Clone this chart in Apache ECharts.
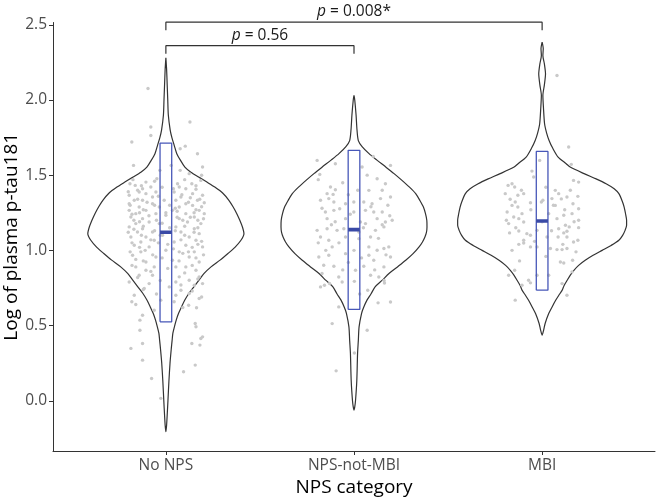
<!DOCTYPE html>
<html><head><meta charset="utf-8">
<script src="https://cdn.jsdelivr.net/npm/echarts@6/dist/echarts.min.js"></script>
<style>html,body{margin:0;padding:0;background:#fff}#c{width:658px;height:503px}</style>
</head><body><div id="c"></div>
<script>
// ---------------- data ----------------
const categories = ['No NPS', 'NPS-not-MBI', 'MBI'];
const yTicks = [0, 0.5, 1, 1.5, 2, 2.5];

// violin profiles: [log p-tau181 value, half-width (density) in category units]
const violinNoNPS = [[2.28,0],[2.20,0.004],[2.10,0.007],[2.00,0.010],[1.90,0.013],[1.80,0.023],[1.75,0.032],[1.70,0.044],[1.643,0.058],[1.60,0.077],[1.554,0.101],[1.52,0.133],[1.487,0.175],[1.454,0.218],[1.421,0.260],[1.38,0.303],[1.333,0.335],[1.29,0.357],[1.244,0.377],[1.20,0.393],[1.155,0.407],[1.111,0.415],[1.067,0.399],[1.02,0.367],[0.979,0.330],[0.935,0.288],[0.89,0.240],[0.845,0.202],[0.80,0.175],[0.757,0.149],[0.713,0.122],[0.668,0.100],[0.624,0.083],[0.58,0.067],[0.536,0.055],[0.49,0.045],[0.448,0.037],[0.40,0.033],[0.35,0.029],[0.25,0.022],[0.126,0.016],[0.0,0.011],[-0.095,0.007],[-0.16,0.004],[-0.206,0]];
const violinNPSnotMBI = [[2.03,0],[2.00,0.004],[1.90,0.011],[1.80,0.016],[1.73,0.023],[1.69,0.043],[1.643,0.080],[1.60,0.122],[1.554,0.169],[1.51,0.213],[1.465,0.255],[1.42,0.295],[1.377,0.328],[1.33,0.351],[1.288,0.369],[1.244,0.380],[1.20,0.387],[1.155,0.388],[1.12,0.385],[1.089,0.377],[1.056,0.364],[1.023,0.346],[0.978,0.314],[0.934,0.275],[0.89,0.231],[0.846,0.186],[0.80,0.149],[0.757,0.112],[0.71,0.090],[0.669,0.069],[0.62,0.051],[0.58,0.040],[0.491,0.027],[0.40,0.023],[0.315,0.019],[0.137,0.015],[0.0,0.008],[-0.04,0.004],[-0.062,0]];
const violinMBI = [[2.384,0],[2.34,0.006],[2.296,0.004],[2.24,0.012],[2.174,0.018],[2.10,0.012],[2.03,0.004],[1.95,0.007],[1.842,0.013],[1.78,0.024],[1.731,0.037],[1.68,0.056],[1.62,0.085],[1.576,0.128],[1.554,0.149],[1.51,0.223],[1.475,0.287],[1.443,0.340],[1.41,0.383],[1.377,0.408],[1.33,0.425],[1.288,0.436],[1.24,0.444],[1.20,0.449],[1.167,0.449],[1.133,0.441],[1.10,0.428],[1.067,0.408],[1.033,0.367],[1.0,0.319],[0.967,0.271],[0.934,0.229],[0.90,0.194],[0.867,0.169],[0.834,0.149],[0.801,0.133],[0.767,0.117],[0.734,0.106],[0.70,0.088],[0.668,0.072],[0.624,0.053],[0.58,0.035],[0.514,0.016],[0.47,0.008],[0.436,0]];

// box summaries: [lower, median, upper]
const boxNoNPS = [0.525, 1.12, 1.713];
const boxNPSnotMBI = [0.607, 1.138, 1.665];
const boxMBI = [0.735, 1.195, 1.658];

// jittered observations: [jitter offset in category units, value]
const pointsNoNPS = [[-0.095,2.076],
[0.128,1.853],[-0.080,1.820],[-0.080,1.764],[-0.181,1.720],[0.103,1.693],[0.076,1.676],[0.168,1.642],[-0.172,1.565],[0.028,1.565],[0.195,1.554],[-0.032,1.532],[0.076,1.532],[0.124,1.510],[0.190,1.499],[-0.048,1.476],[0.186,1.465],[-0.106,1.454],[-0.191,1.443],[-0.163,1.432],[0.062,1.443],[0.138,1.443],[-0.080,1.421],[-0.124,1.410],[0.071,1.421],[0.106,1.410],[0.160,1.406],[-0.142,1.388],[-0.053,1.388],[0.044,1.388],[-0.195,1.366],[-0.106,1.377],[0.142,1.377],[0.195,1.366],[-0.071,1.355],[0.080,1.355],[-0.168,1.333],[-0.124,1.333],[-0.009,1.333],[0.053,1.333],[0.168,1.333],[-0.195,1.310],[-0.071,1.310],[0.106,1.310],[0.204,1.317],[-0.142,1.288],[-0.035,1.288],[0.071,1.288],[0.142,1.299],[-0.195,1.266],[-0.106,1.266],[0.035,1.266],[0.177,1.266],[-0.160,1.244],[-0.053,1.244],[0.106,1.244],[0.204,1.244],[-0.186,1.222],[-0.124,1.211],[0.000,1.233],[0.071,1.211],[0.151,1.222],[-0.089,1.189],[-0.160,1.178],[-0.035,1.178],[0.115,1.189],[0.186,1.178],[-0.195,1.156],[-0.124,1.144],[0.053,1.156],[0.151,1.144],[-0.151,1.122],[-0.071,1.122],[0.080,1.122],[0.177,1.111],[-0.186,1.089],[-0.106,1.089],[-0.018,1.100],[0.124,1.089],[-0.133,1.056],[-0.062,1.067],[0.044,1.056],[0.160,1.067],[-0.168,1.034],[-0.089,1.023],[0.106,1.034],[0.195,1.023],[-0.133,0.990],[0.000,1.001],[0.071,0.990],[0.151,0.990],[-0.177,0.967],[-0.053,0.956],[0.124,0.956],[-0.106,0.923],[0.035,0.934],[0.177,0.923],
[-0.160,0.890],[-0.106,0.868],[-0.062,0.890],[0.053,0.890],[0.106,0.890],[0.160,0.868],[-0.142,0.835],[-0.071,0.835],[0.071,0.824],[0.124,0.801],[0.177,0.824],[-0.195,0.790],[-0.089,0.779],[0.053,0.790],[0.151,0.768],[0.195,0.779],[-0.115,0.746],[0.018,0.757],[0.080,0.735],[-0.168,0.702],[0.053,0.702],[0.124,0.713],[0.177,0.680],[-0.181,0.658],[-0.027,0.669],[0.044,0.658],[0.121,0.635],[0.163,0.618],[-0.062,0.602],[-0.124,0.569],[-0.138,0.536],[0.156,0.514],[0.160,0.492],[-0.138,0.469],[0.195,0.425],[0.186,0.414],[-0.124,0.381],[0.138,0.381],[0.181,0.370],[-0.186,0.348],[-0.124,0.270],[0.156,0.237],[0.094,0.193],[-0.076,0.148],[-0.027,0.016],
[-0.150,1.40],[-0.020,1.42],[0.130,1.35],[-0.190,1.30],[-0.100,1.32],[0.020,1.30],[0.190,1.29],[-0.140,1.25],[0.060,1.26],[0.150,1.25],[-0.170,1.20],[-0.050,1.20],[0.090,1.20],[0.200,1.21],[-0.120,1.16],[0.020,1.15],[0.170,1.15],[-0.200,1.12],[-0.030,1.10],[0.100,1.10],[-0.080,1.07],[0.190,1.06],[-0.180,1.05],[0.010,1.04],[0.140,1.02],[-0.110,1.00],[0.090,0.98],[-0.160,0.94],[0.200,0.97],[-0.020,0.95],
[-0.175,1.47],[0.100,1.47],[-0.060,1.46],[0.160,1.43],[-0.130,1.43],[0.040,1.41],[-0.200,1.39],[0.085,1.37],[-0.040,1.36],[0.180,1.34],[-0.150,1.34],[0.120,1.32],[-0.060,1.30],[0.050,1.28],[-0.120,1.27],[0.160,1.27],[-0.180,1.24],[0.000,1.25],[0.130,1.22],[-0.090,1.23],[0.060,1.22],[-0.140,1.19],[0.170,1.20],[-0.020,1.18],[0.100,1.16],[-0.170,1.14],[0.050,1.13],[-0.060,1.13],[0.150,1.12],[-0.130,1.10],[0.080,1.07],[-0.040,1.05],[0.170,1.04],[-0.140,1.02],[0.040,1.01],[-0.190,0.99],[0.120,0.99],[-0.070,0.97],[0.160,0.95],[-0.120,0.93],[0.070,0.93],[-0.180,0.90],[0.140,0.90],[0.010,0.88],[-0.080,0.86],[0.100,0.85],[-0.150,0.82],[0.170,0.81],[-0.030,0.80],[0.080,0.77],[-0.120,0.74],[0.140,0.73],[-0.050,0.71],[0.190,0.69],[-0.160,0.64],[0.090,0.62]];

const pointsNPSnotMBI = [[-0.196,1.598],[-0.099,1.576],[0.102,1.625],[0.194,1.565],[-0.182,1.505],[0.043,1.554],[0.123,1.476],[0.167,1.443],[0.079,1.399],[-0.125,1.421],[-0.099,1.403],[-0.143,1.377],[-0.111,1.372],[-0.134,1.344],[-0.178,1.333],[-0.107,1.322],[-0.045,1.310],[-0.001,1.322],[0.052,1.322],[0.096,1.310],[0.141,1.344],[0.194,1.355],[-0.076,1.277],[-0.152,1.255],[-0.107,1.266],[-0.001,1.255],[0.061,1.266],[0.105,1.255],[0.150,1.255],[-0.143,1.211],[-0.045,1.211],[0.034,1.189],[0.123,1.211],[0.167,1.189],[0.203,1.200],[-0.196,1.133],[-0.143,1.144],[-0.090,1.133],[-0.054,1.144],[0.026,1.122],[0.061,1.178],[0.114,1.133],[0.159,1.156],[-0.178,1.089],[-0.134,1.067],[-0.045,1.089],[0.026,1.078],[0.088,1.089],[0.079,1.023],[0.123,1.001],[0.159,1.012],[0.185,1.023],[-0.116,1.023],[-0.187,0.956],[-0.134,0.967],[-0.045,0.978],[0.079,0.967],[0.105,0.934],[0.159,0.890],[0.194,0.956],[-0.161,0.901],[-0.107,0.894],[0.052,0.894],[-0.081,0.823],[0.008,0.868],[0.088,0.835],[0.132,0.823],[-0.170,0.846],
[-0.178,0.757],[-0.157,0.768],[-0.063,0.790],[0.002,0.794],[0.073,0.735],[0.162,0.783],[-0.081,0.624],[0.128,0.651],[0.194,0.657],[-0.116,0.513],[0.070,0.469],[0.002,0.318],[-0.095,0.199],
[-0.060,1.45],[0.020,1.40],[0.150,1.40],[-0.170,1.28],[0.090,1.29],[-0.020,1.24],[0.190,1.23],[-0.120,1.17],[0.050,1.15],[0.130,1.08],[-0.080,1.05],[0.000,1.00],[-0.150,1.00],[0.170,0.97],[-0.030,0.92],[0.110,0.87],[-0.130,0.78],[0.030,0.71],
[-0.190,1.47],[0.070,1.50],[-0.030,1.37],[0.180,1.30],[-0.100,1.19],[0.150,1.17],[-0.190,1.05],[0.040,0.95],[-0.060,0.87],[0.160,0.80]];

const pointsMBI = [[0.079,2.163],[0.141,1.687],[0.155,1.572],[-0.013,1.598],[-0.054,1.527],[-0.045,1.488],[0.167,1.465],[0.194,1.454],[-0.160,1.443],[-0.181,1.432],[-0.146,1.421],[0.070,1.399],[0.088,1.377],[-0.196,1.377],[-0.129,1.366],[-0.098,1.377],[0.132,1.355],[0.190,1.359],[0.052,1.344],[0.102,1.342],[-0.143,1.322],[-0.004,1.322],[0.004,1.333],[-0.062,1.317],[0.164,1.310],[0.070,1.299],[-0.160,1.299],[-0.129,1.288],[0.194,1.277],[-0.186,1.255],[-0.107,1.244],[0.035,1.244],[0.115,1.233],[0.159,1.244],[-0.151,1.222],[-0.124,1.211],[0.079,1.211],[0.194,1.200],[-0.178,1.178],[-0.098,1.189],[0.124,1.167],[0.088,1.144],[0.144,1.156],[-0.173,1.116],[-0.124,1.129],[-0.081,1.111],[-0.027,1.133],[0.115,1.116],[0.132,1.127],[0.194,1.151],[-0.098,1.067],[-0.062,1.100],[0.085,1.089],[0.026,1.089],[0.132,1.089],[0.190,1.067],[0.167,1.056],[-0.124,1.040],[-0.098,1.049],[-0.062,1.023],[-0.027,1.023],[0.044,1.012],[0.079,1.005],[0.106,1.005],[0.132,1.012],[0.097,0.923],[0.115,0.916],[0.162,0.934],[-0.146,0.868],[-0.178,0.835],[-0.027,0.835],[0.159,0.857],[-0.107,0.768],[-0.072,0.801],[-0.062,0.784],[0.035,0.835],[0.106,0.779],[0.132,0.702],[-0.143,0.669],
[-0.110,1.40],[0.020,1.42],[0.150,1.40],[-0.170,1.34],[0.060,1.30],[-0.060,1.27],[0.120,1.27],[-0.190,1.20],[0.000,1.19],[0.170,1.19],[-0.140,1.15],[0.050,1.13],[-0.040,1.06],[0.110,1.04],[-0.160,1.00],[0.180,0.99],[0.020,0.96],[-0.120,0.93]];

// significance annotations
const sigFrom = [1, 1];
const sigTo = [2, 3];
const sigLevel = [2.361, 2.517];
const sigText = ['{i|p} = 0.56', '{i|p} = 0.008*'];
const sigLabelValue = [2.428, 2.588];
const sigLeg = 0.053;

// ---------------- chart ----------------
const violins = [violinNoNPS, violinNPSnotMBI, violinMBI];
const boxes = [boxNoNPS, boxNPSnotMBI, boxMBI];
const points = [pointsNoNPS, pointsNPSnotMBI, pointsMBI];
const catPos = categories.map((c, i) => i + 1);
const BOX_HW = 0.031;
const FONT = "'Open Sans', 'Noto Sans', sans-serif";

const series = [];
violins.forEach((prof, i) => {
  const c = catPos[i];
  const right = prof.map(p => [c + p[1], p[0]]);
  const left = prof.slice().reverse().map(p => [c - p[1], p[0]]);
  series.push({
    type: 'line', data: right.concat(left), smooth: 0.25, showSymbol: false, symbol: 'none',
    lineStyle: { color: '#333333', width: 1.2 }, z: 2, silent: true, animation: false, clip: false
  });
});
const scatterData = [];
points.forEach((pts, i) => pts.forEach(p => scatterData.push([catPos[i] + p[0], p[1]])));
series.push({
  type: 'scatter', data: scatterData, symbolSize: 3.4,
  itemStyle: { color: '#c9c9c9', opacity: 1 }, z: 3, silent: true, animation: false
});
boxes.forEach((b, i) => {
  const c = catPos[i];
  series.push({
    type: 'line', data: [[c - BOX_HW, b[0]], [c + BOX_HW, b[0]], [c + BOX_HW, b[2]], [c - BOX_HW, b[2]], [c - BOX_HW, b[0]]],
    showSymbol: false, symbol: 'none', lineStyle: { color: '#4757b8', width: 1.3 }, z: 4, silent: true, animation: false
  });
  series.push({
    type: 'line', data: [[c - BOX_HW, b[1]], [c + BOX_HW, b[1]]],
    showSymbol: false, symbol: 'none', lineStyle: { color: '#3a4aa6', width: 3.6, cap: 'butt' }, z: 5, silent: true, animation: false
  });
});
sigFrom.forEach((f, i) => {
  const t = sigTo[i], v = sigLevel[i];
  series.push({
    type: 'line', data: [[f, v - sigLeg], [f, v], [t, v], [t, v - sigLeg]],
    showSymbol: false, symbol: 'none', lineStyle: { color: '#333333', width: 1.2 }, z: 6, silent: true, animation: false, clip: false
  });
});
series.push({
  type: 'custom', coordinateSystem: 'cartesian2d', clip: false, silent: true, animation: false, z: 7,
  data: sigFrom.map((f, i) => [(f + sigTo[i]) / 2, sigLabelValue[i]]),
  renderItem: (params, api) => {
    const p = api.coord([api.value(0), api.value(1)]);
    return {
      type: 'text', x: p[0], y: p[1],
      style: {
        text: sigText[params.dataIndex], fontFamily: FONT, fontSize: 15.5, fill: '#1a1a1a',
        align: 'center', verticalAlign: 'middle',
        rich: { i: { fontStyle: 'italic', fontFamily: FONT, fontSize: 15.5, fill: '#1a1a1a' } }
      }
    };
  }
});

const chart = echarts.init(document.getElementById('c'));
chart.setOption({
  animation: false,
  backgroundColor: '#ffffff',
  grid: { left: 53, right: 3, top: 22.5, bottom: 52, containLabel: false, outerBoundsMode: 'none' },
  xAxis: {
    type: 'value', min: 0.4, max: 3.6,
    name: 'NPS category', nameLocation: 'middle', nameGap: 27, nameMoveOverlap: false,
    nameTextStyle: { fontFamily: FONT, fontSize: 19, color: '#000' },
    axisLine: { show: true, onZero: false, lineStyle: { color: '#333', width: 1 } },
    axisTick: { show: true, length: 4, customValues: catPos, lineStyle: { color: '#333', width: 1 } },
    axisLabel: { customValues: catPos, margin: 7, fontFamily: FONT, fontSize: 15.5, color: '#4d4d4d',
      formatter: v => categories[Math.round(v) - 1] },
    splitLine: { show: false }
  },
  yAxis: {
    type: 'value', min: -0.334, max: 2.515,
    name: 'Log of plasma p-tau181', nameLocation: 'middle', nameGap: 32, nameMoveOverlap: false,
    nameTextStyle: { fontFamily: FONT, fontSize: 19, color: '#000' },
    axisLine: { show: true, onZero: false, lineStyle: { color: '#333', width: 1 } },
    axisTick: { show: true, length: 4, customValues: yTicks, lineStyle: { color: '#333', width: 1 } },
    axisLabel: { customValues: yTicks, margin: 6, fontFamily: FONT, fontSize: 15.5, color: '#4d4d4d',
      formatter: v => v.toFixed(1) },
    splitLine: { show: false }
  },
  series: series
});
</script>
</body></html>
